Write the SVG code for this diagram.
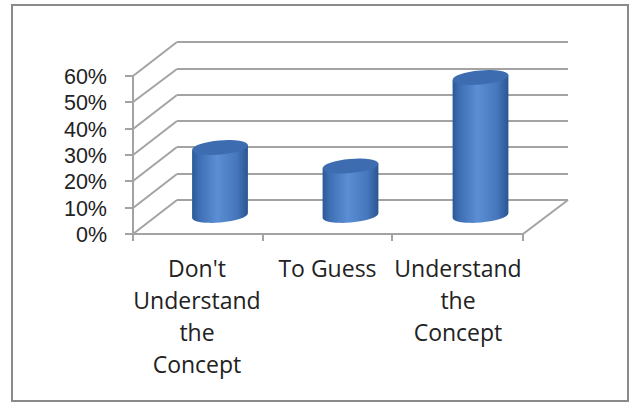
<svg xmlns="http://www.w3.org/2000/svg" width="632" height="403" viewBox="0 0 632 403">
<defs>
<style>
.g{stroke:#a3a3a3;stroke-width:2;fill:none}
.t{font-family:"Open Sans","Liberation Sans",sans-serif;font-size:23px;fill:#222222}
.y{font-family:"Liberation Sans","Open Sans",sans-serif;font-size:21.5px;fill:#222222;text-anchor:end}
.c{text-anchor:middle}
.cap{fill:#3d6db0}
.body{fill:url(#cyl)}
</style>
<linearGradient id="cyl" x1="0" y1="0" x2="1" y2="0">
<stop offset="0" stop-color="#2b5996"/>
<stop offset="0.12" stop-color="#3d6eb3"/>
<stop offset="0.45" stop-color="#5b8ed4"/>
<stop offset="0.8" stop-color="#4677bd"/>
<stop offset="1" stop-color="#2a5590"/>
</linearGradient>
</defs>
<rect x="12" y="5" width="616" height="396" fill="#ffffff" stroke="#8a8a8a" stroke-width="2"/>
<g id="axes">
<path class="g" d="M133,76 L133,234 M177,42 L568,42 M177,69 L568,69 M177,95 L568,95 M177,121 L568,121 M177,147 L568,147 M177,174 L568,174 M177,200 L568,200 M133,76 L177,42 M133,102 L177,69 M133,129 L177,95 M133,155 L177,121 M133,181 L177,147 M133,208 L177,174 M133,234 L177,200 M133,234 L523,234 L568,200 M125,76 L133,76 M125,102 L133,102 M125,129 L133,129 M125,155 L133,155 M125,181 L133,181 M125,208 L133,208 M125,234 L133,234 M133,234 L133,241 M263,234 L263,241 M392,234 L392,241 M523,234 L523,241"/>
</g>
<g id="y-labels" class="y">
<text x="107" y="84">60%</text>
<text x="107" y="110">50%</text>
<text x="107" y="137">40%</text>
<text x="107" y="163">30%</text>
<text x="107" y="189">20%</text>
<text x="107" y="216">10%</text>
<text x="107" y="242">0%</text>
</g>
<g id="bar1">
<path class="body" d="M192.1,149.9 L192.1,217.9 A28,7 -5 0 0 247.9,213.1 L247.9,145.1 Z"/>
<ellipse class="cap" cx="220" cy="147.5" rx="28" ry="7" transform="rotate(-5 220 147.5)"/>
</g>
<g id="bar2">
<path class="body" d="M322.6,168.4 L322.6,217.9 A28,7 -5 0 0 378.4,213.1 L378.4,163.6 Z"/>
<ellipse class="cap" cx="350.5" cy="166" rx="28" ry="7" transform="rotate(-5 350.5 166)"/>
</g>
<g id="bar3">
<path class="body" d="M452.6,79.9 L452.6,217.9 A28,7 -5 0 0 508.4,213.1 L508.4,75.1 Z"/>
<ellipse class="cap" cx="480.5" cy="77.5" rx="28" ry="7" transform="rotate(-5 480.5 77.5)"/>
</g>
<g id="x-labels" class="t c">
<text x="197" y="277">Don't</text>
<text x="197" y="309">Understand</text>
<text x="197" y="341">the</text>
<text x="197" y="373">Concept</text>
<text x="327.5" y="277">To Guess</text>
<text x="458" y="277">Understand</text>
<text x="458" y="309">the</text>
<text x="458" y="341">Concept</text>
</g>
</svg>
